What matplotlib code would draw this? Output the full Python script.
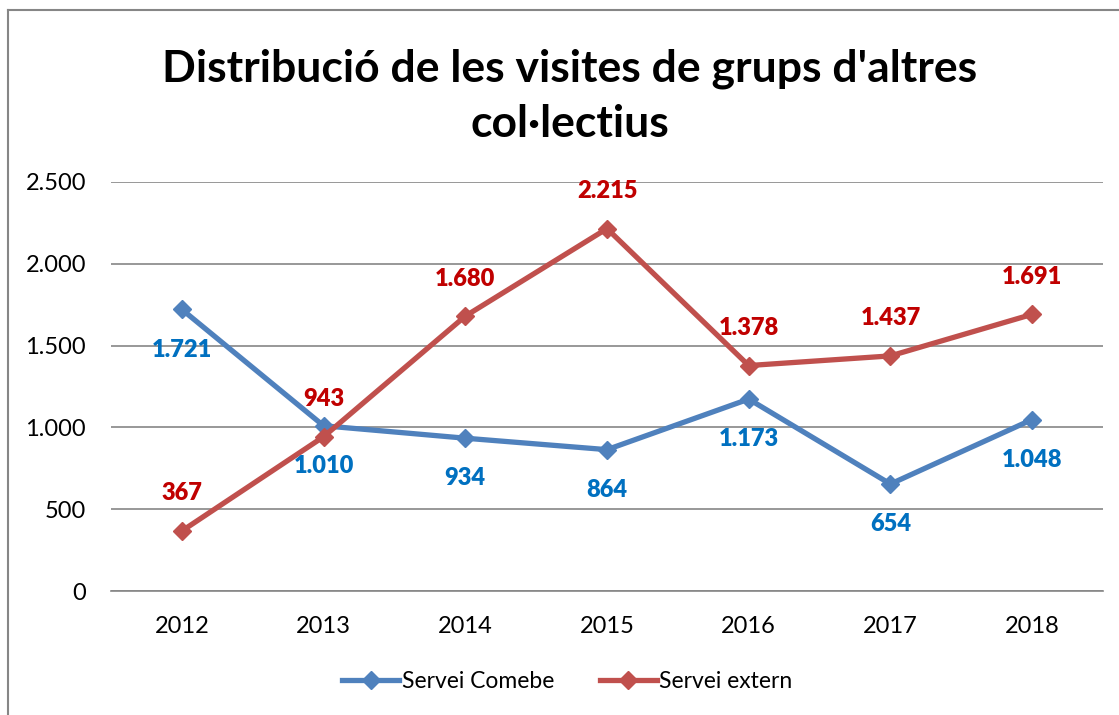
import matplotlib
matplotlib.use('Agg')
import matplotlib.pyplot as plt
from matplotlib.ticker import FuncFormatter
from matplotlib.lines import Line2D

plt.rcParams['font.family'] = ['Lato', 'DejaVu Sans']

years = ['2012', '2013', '2014', '2015', '2016', '2017', '2018']
comebe = [1721, 1010, 934, 864, 1173, 654, 1048]
extern = [367, 943, 1680, 2215, 1378, 1437, 1691]

BLUE, RED = '#4F81BD', '#C0504D'
BLUE_TXT, RED_TXT = '#0070C0', '#C00000'


def fmt(v):
    return f'{int(v):,}'.replace(',', '.')


fig = plt.figure(figsize=(11.19, 7.15), dpi=100)
ax = fig.add_axes([0.0992, 0.1734, 0.8865, 0.5721])

x = range(len(years))
ax.plot(x, comebe, color=BLUE, lw=3.8, marker='D', ms=9.5, zorder=3)
ax.plot(x, extern, color=RED, lw=3.8, marker='D', ms=9.5, zorder=3)

for i, v in enumerate(comebe):
    ax.annotate(fmt(v), (i, v), xytext=(0, -29), textcoords='offset points',
                ha='center', va='center', color=BLUE_TXT, fontsize=17,
                fontweight='heavy')
for i, v in enumerate(extern):
    ax.annotate(fmt(v), (i, v), xytext=(0, 27), textcoords='offset points',
                ha='center', va='center', color=RED_TXT, fontsize=17,
                fontweight='heavy')

ax.set_xlim(-0.5, len(years) - 0.5)
ax.set_ylim(0, 2500)
ax.set_yticks(range(0, 2501, 500))
ax.yaxis.set_major_formatter(FuncFormatter(lambda v, p: fmt(v)))
ax.set_xticks(list(x))
ax.set_xticklabels(years)
ax.grid(axis='y', color='#868686', lw=1.2)
ax.set_axisbelow(True)
for s in ['top', 'right', 'left']:
    ax.spines[s].set_visible(False)
ax.spines['bottom'].set_color('#868686')
ax.spines['bottom'].set_linewidth(1.2)
ax.tick_params(length=0, labelsize=17)
ax.tick_params(axis='x', pad=18)
ax.tick_params(axis='y', pad=18)

fig.text(0.509, 0.865, "Distribució de les visites de grups d'altres\ncol·lectius",
         ha='center', va='center', fontsize=32, fontweight='bold',
         linespacing=1.45)

handles = [Line2D([], [], color=BLUE, lw=3.8, marker='D', ms=9.5),
           Line2D([], [], color=RED, lw=3.8, marker='D', ms=9.5)]
fig.legend(handles, ['Servei Comebe', 'Servei extern'], loc='center',
           bbox_to_anchor=(0.507, 0.047), ncol=2, frameon=False, fontsize=16.5,
           handlelength=2.5, handletextpad=0.1, columnspacing=2.0)

# chart frame (left and top edges visible)
fig.add_artist(Line2D([0.0075, 0.0075], [0, 0.986], color='#868686', lw=1.5,
                      transform=fig.transFigure))
fig.add_artist(Line2D([0.0075, 1.0], [0.986, 0.986], color='#868686', lw=1.5,
                      transform=fig.transFigure))

fig.savefig('out.png', dpi=100)
